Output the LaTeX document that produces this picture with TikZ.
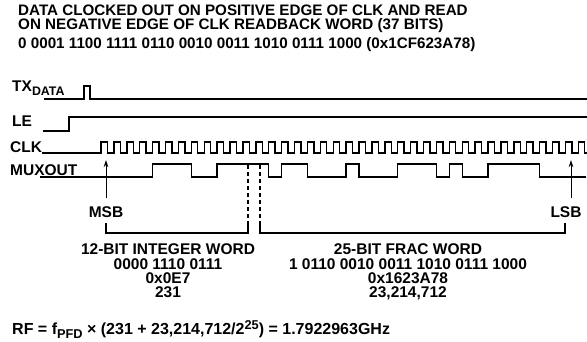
\documentclass[tikz,border=0pt]{standalone}
\usepackage{fontspec}
\setmainfont{Liberation Sans}
\usetikzlibrary{arrows.meta}
\begin{document}
\begin{tikzpicture}[x=1pt,y=-1pt,
  every node/.style={font=\fontsize{15.5}{15.5}\selectfont\bfseries, inner sep=0pt},
  ttl/.style={font=\fontsize{15.2}{15.2}\selectfont\bfseries, anchor=base west},
  sig/.style={line width=1.4pt, line join=miter},
  brk/.style={line width=1.1pt},
  dsh/.style={line width=1.1pt, dash pattern=on 4pt off 3pt},
  arr/.style={line width=1pt, -{Stealth[length=7pt,width=4.5pt]}}]
\useasboundingbox (0,0) rectangle (587,341);
\def\b{101}\def\T{12.9}
% title
\node[ttl] (t1) at (18,15.5) {DATA CLOCKED OUT ON POSITIVE EDGE OF CLK AND READ};
\node[ttl] (t2) at (18,29.5) {ON NEGATIVE EDGE OF CLK READBACK WORD (37 BITS)};
\node[ttl] (t3) at (18,48) {0 0001 1100 1111 0110 0010 0011 1010 0111 1000 (0x1CF623A78)};
% signal labels
\node[anchor=base west] (ltx) at (12,91) {TX\raisebox{-4.5pt}{\fontsize{12.4}{12.4}\selectfont DATA}};
\node[anchor=base west] (lle) at (12,126) {LE};
\node[anchor=base west] (lclk) at (10,152) {CLK};
\node[anchor=base west] (lmux) at (10,175) {MUXOUT};
% TX
\draw[sig] (44,99) -- (84,99) -- (84,86) -- (90,86) -- (90,99) -- (587,99);
% LE
\draw[sig] (43,131) -- (69,131) -- (69,117) -- (587,117);
% CLK
\draw[sig] (42,153) -- (\b,153)
  \foreach \k in {0,...,36} { -- ({\b+\k*\T},142) -- ({\b+(\k+0.5)*\T},142) -- ({\b+(\k+0.5)*\T},153) -- ({\b+(\k+1)*\T},153) }
  -- ({\b+37*\T},142) -- ({\b+37.5*\T},142) -- ({\b+37.5*\T},153) -- (587,153);
% MUXOUT
\draw[sig] (40,177) -- ({\b+4*\T},177) -- ({\b+4*\T},164) -- ({\b+7*\T},164) -- ({\b+7*\T},177)
  -- ({\b+9*\T},177) -- ({\b+9*\T},164) -- ({\b+13*\T},164) -- ({\b+13*\T},177)
  -- ({\b+14*\T},177) -- ({\b+14*\T},164) -- ({\b+16*\T},164) -- ({\b+16*\T},177)
  -- ({\b+19*\T},177) -- ({\b+19*\T},164) -- ({\b+20*\T},164) -- ({\b+20*\T},177)
  -- ({\b+23*\T},177) -- ({\b+23*\T},164) -- ({\b+26*\T},164) -- ({\b+26*\T},177)
  -- ({\b+27*\T},177) -- ({\b+27*\T},164) -- ({\b+28*\T},164) -- ({\b+28*\T},177)
  -- ({\b+30*\T},177) -- ({\b+30*\T},164) -- ({\b+34*\T},164) -- ({\b+34*\T},177) -- (586,177);
% MSB / LSB
\node[anchor=base] (msb) at (106,217) {MSB};
\node[anchor=base] (lsb) at (566,217) {LSB};
\coordinate (msbtip) at (106,160);
\coordinate (msbbot) at (106,198);
\coordinate (lsbtip) at (571,160);
\coordinate (lsbbot) at (571,198);
\draw[arr] (msbbot) -- (msbtip);
\draw[arr] (lsbbot) -- (lsbtip);
% dashed + brackets
\coordinate (d1t) at (248,165);
\coordinate (d1b) at (248,223);
\coordinate (d2t) at (260,165);
\coordinate (d2b) at (260,223);
\draw[dsh] (d1t) -- (d1b);
\draw[dsh] (d2t) -- (d2b);
\draw[brk] (106,223) -- (106,233) -- (248,233) -- (d1b);
\draw[brk] (d2b) -- (260,233) -- (565,233) -- (565,223);
% word labels
\node[anchor=base] (i1) at (168,254) {12-BIT INTEGER WORD};
\node[anchor=base] (i2) at (168,269) {0000 1110 0111};
\node[anchor=base] (i3) at (168,283) {0x0E7};
\node[anchor=base] (i4) at (168,297) {231};
\node[anchor=base] (f1) at (408,254) {25-BIT FRAC WORD};
\node[anchor=base] (f2) at (408,269) {1 0110 0010 0011 1010 0111 1000};
\node[anchor=base] (f3) at (408,283) {0x1623A78};
\node[anchor=base] (f4) at (408,297) {23,214,712};
% formula
\node[anchor=base west, font=\fontsize{16}{16}\selectfont\bfseries] (rf) at (12,334) {RF = f\raisebox{-4pt}{\fontsize{12.8}{12.8}\selectfont PFD} × (231 + 23,214,712/2\raisebox{5pt}{\fontsize{12.8}{12.8}\selectfont 25}) = 1.7922963GHz};
\end{tikzpicture}
\end{document}
